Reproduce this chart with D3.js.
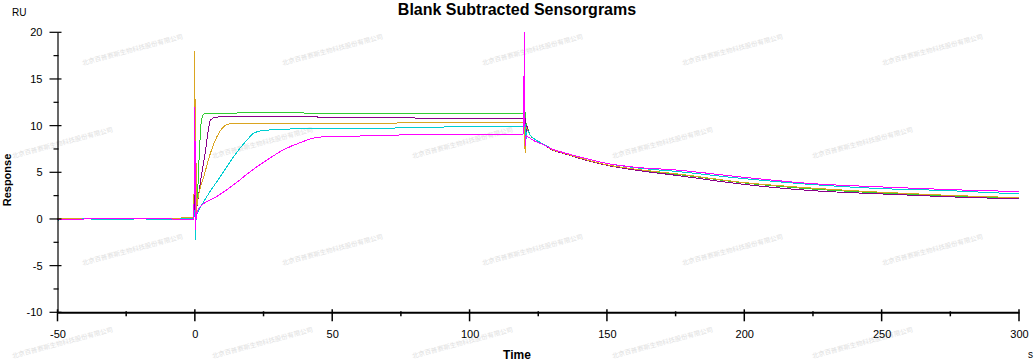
<!DOCTYPE html>
<html>
<head>
<meta charset="utf-8">
<title>Blank Subtracted Sensorgrams</title>
<script src="https://cdn.jsdelivr.net/npm/d3@7"></script>
<style>
  body { margin: 0; background: #fff; font-family: "Liberation Sans", Arial, sans-serif; }
  .tick text { font-size: 11px; fill: #000; }
  .curve { fill: none; stroke-width: 1; shape-rendering: crispEdges; }
  .wm { font-family: "Noto Sans CJK SC", sans-serif; font-size: 6.5px; fill: #e0e0e0; }
</style>
</head>
<body>
<div id="graphic"></div>
<script>
// time (s) / response (RU) pairs
var green = [[-50,0.05],[-40,0],[-30,0.02],[-20,0],[-10,0.02],[-2,0.05],[-0.4,0.1],[0,1.5],[0.2,-0.3],[0.5,0.5],
  [0.87,2.1],[1.7,7.4],[2.4,10.6],[3.3,11.25],[5,11.35],[15,11.35],[22,11.42],[35,11.42],[40,11.35],[80,11.35],[119.6,11.35],
  [120.2,11.5],[120.5,10.3],[121,9.9],[122,9.0],[124,8.5],[127,8.0],[130,7.45],[135,7.0],[140,6.55],[150,5.8],[160,5.3],
  [175,4.8],[200,3.86],[225,3.2],[250,2.78],[275,2.45],[300,2.2]];
var purple = [[-50,-0.05],[-40,0],[-30,0.02],[-20,0.05],[-10,0],[-2,0.05],[-0.4,0.05],[0,4.0],[0.2,-0.5],[0.5,0.6],
  [1.45,2.8],[3.9,7.4],[5.1,9.9],[5.7,10.6],[7.5,10.9],[10,10.95],[30,11.0],[40,10.95],[60,10.85],[90,10.8],[119.6,10.8],
  [120.2,11.0],[120.5,9.0],[120.8,10.0],[121.2,9.6],[122,9.0],[124,8.5],[127,7.95],[130,7.4],[135,6.95],[140,6.5],[150,5.75],
  [160,5.25],[175,4.68],[200,3.7],[225,3.03],[250,2.68],[275,2.37],[300,2.14]];
var orange = [[-50,0.02],[-40,0],[-30,0],[-20,0.02],[-10,0],[-2,0.15],[-0.4,0.1],[0,18.0],[0.2,-0.5],[0.35,10.5],[0.5,0.8],
  [0.87,1.7],[3.3,4.57],[5.7,7.07],[8.1,8.85],[10.6,9.92],[13,10.2],[40,10.2],[50,10.25],[70,10.25],[80,10.35],[119.6,10.35],
  [120,10.4],[120.2,6.9],[120.5,9.8],[121,9.6],[122,9.0],[124,8.5],[127,8.0],[130,7.45],[135,7.0],[140,6.55],[150,5.8],
  [160,5.35],[175,4.85],[200,3.9],[225,3.3],[250,2.86],[275,2.52],[300,2.28]];
var cyan = [[-50,-0.12],[-45,-0.05],[-40,0],[-30,-0.05],[-20,0],[-10,-0.05],[-2,0.02],[-0.4,0],[0,1.0],[0.2,-2.2],[0.5,0.4],
  [0.9,0.64],[4.4,2.42],[9.35,4.57],[14.2,6.7],[19.1,8.5],[21.5,9.21],[25.1,9.49],[35,9.64],[60,9.66],[80,9.8],[110,9.9],[119.6,9.9],
  [120.2,10.3],[120.5,8.5],[121,9.5],[122,9.0],[124,8.5],[127,8.0],[130,7.5],[135,7.05],[140,6.65],[150,5.95],[160,5.5],
  [175,5.1],[200,4.32],[225,3.68],[250,3.25],[275,3.03],[300,2.68]];
var magenta = [[-50,-0.1],[-45,-0.1],[-40,0],[-30,0],[-20,0],[-10,0],[-2,-0.05],[-0.4,-0.1],[0,12.0],[0.2,-1.2],[0.5,0.3],
  [1.5,1.18],[8.1,2.42],[14.2,3.68],[20.3,5.1],[26.4,6.35],[32.4,7.43],[38.5,8.2],[44.5,8.74],[50.6,8.85],[62.7,8.9],
  [74.9,9.0],[87,9.05],[105,9.1],[119.6,9.07],[120,20.0],[120.2,7.8],[120.5,8.9],[121,8.85],[122,8.65],[124,8.3],[127,7.95],
  [130,7.5],[135,7.05],[140,6.65],[150,5.95],[160,5.55],[175,5.25],[200,4.46],[225,3.78],[250,3.43],[275,3.14],[300,2.93]];

var seriesList = [green, purple, orange, cyan, magenta];
var seriesColors = ["#32cd32", "#8b008b", "#daa520", "#00ced1", "#ff00ff"];

var yMajor = [-10, -5, 0, 5, 10, 15, 20];
var yMinor = [-7.5, -2.5, 2.5, 7.5, 12.5, 17.5];
var xMajor = [-50, 0, 50, 100, 150, 200, 250, 300];
var xMinor = [-25, 25, 75, 125, 175, 225, 275];

var watermark = "北京百普赛斯生物科技股份有限公司";

var width = 1035, height = 361;

var svg = d3.select("#graphic").append("svg")
    .attr("width", width)
    .attr("height", height);

var x = d3.scaleLinear().domain([-50, 300]).range([57.5, 1019]);
var y = d3.scaleLinear().domain([-10, 20]).range([312.3, 32.3]);

// faint watermarks (only the ones that fit inside the frame)
var wmRows = [{cy: 50, x0: 133}, {cy: 143, x0: 63}, {cy: 250, x0: 133}, {cy: 343, x0: 63}];
wmRows.forEach(function (r) {
    for (var k = 0; k < 5; k++) {
        var cx = r.x0 + k * 200;
        svg.append("text")
            .attr("class", "wm")
            .attr("text-anchor", "middle")
            .attr("transform", "translate(" + cx + "," + (r.cy + 2) + ") rotate(-15)")
            .text(watermark);
    }
});

// curves
var line = d3.line()
    .x(function (d) { return x(d[0]); })
    .y(function (d) { return y(d[1]); })
    .curve(d3.curveMonotoneX);

svg.selectAll(".curve")
    .data(seriesList)
    .enter()
    .append("path")
    .attr("class", "curve")
    .attr("stroke", function (d, i) { return seriesColors[i]; })
    .attr("d", line);

function plain(d) { return String(d); }

// y axis
var yAxis = d3.axisLeft(y).tickValues(yMajor).tickFormat(plain).tickSize(0).tickPadding(15);
var gy = svg.append("g")
    .attr("transform", "translate(" + x(-50) + ",0)")
    .call(yAxis);
gy.select(".domain").attr("stroke", "#000").attr("stroke-width", 1.2);
gy.selectAll(".tickmark-major")
    .data(yMajor).enter().append("line")
    .attr("x1", -8).attr("x2", 4)
    .attr("y1", function (d) { return y(d); }).attr("y2", function (d) { return y(d); })
    .attr("stroke", "#000").attr("stroke-width", 1.2);
gy.selectAll(".tickmark-minor")
    .data(yMinor).enter().append("line")
    .attr("x1", -4).attr("x2", 1)
    .attr("y1", function (d) { return y(d); }).attr("y2", function (d) { return y(d); })
    .attr("stroke", "#000").attr("stroke-width", 1.2);

// x axis
var xAxis = d3.axisBottom(x).tickValues(xMajor).tickFormat(plain).tickSize(0).tickPadding(18);
var gx = svg.append("g")
    .attr("transform", "translate(0," + y(-10) + ")")
    .call(xAxis);
gx.select(".domain").attr("stroke", "#000").attr("stroke-width", 2);
gx.selectAll(".tickmark-major")
    .data(xMajor).enter().append("line")
    .attr("y1", -3).attr("y2", 9)
    .attr("x1", function (d) { return x(d); }).attr("x2", function (d) { return x(d); })
    .attr("stroke", "#000").attr("stroke-width", 1.5);
gx.selectAll(".tickmark-minor")
    .data(xMinor).enter().append("line")
    .attr("y1", -1).attr("y2", 4)
    .attr("x1", function (d) { return x(d); }).attr("x2", function (d) { return x(d); })
    .attr("stroke", "#000").attr("stroke-width", 1.5);

// titles and labels
svg.append("text")
    .attr("x", 517).attr("y", 15)
    .attr("text-anchor", "middle")
    .style("font-size", "16px").style("font-weight", "bold")
    .text("Blank Subtracted Sensorgrams");

svg.append("text")
    .attr("x", 517).attr("y", 359)
    .attr("text-anchor", "middle")
    .style("font-size", "12px").style("font-weight", "bold")
    .text("Time");

svg.append("text")
    .attr("transform", "translate(11,180) rotate(-90)")
    .attr("text-anchor", "middle")
    .style("font-size", "11px").style("font-weight", "bold")
    .text("Response");

svg.append("text")
    .attr("x", 12).attr("y", 16)
    .style("font-size", "10px")
    .text("RU");

svg.append("text")
    .attr("x", 1028).attr("y", 358)
    .style("font-size", "10px")
    .text("s");
</script>
</body>
</html>
